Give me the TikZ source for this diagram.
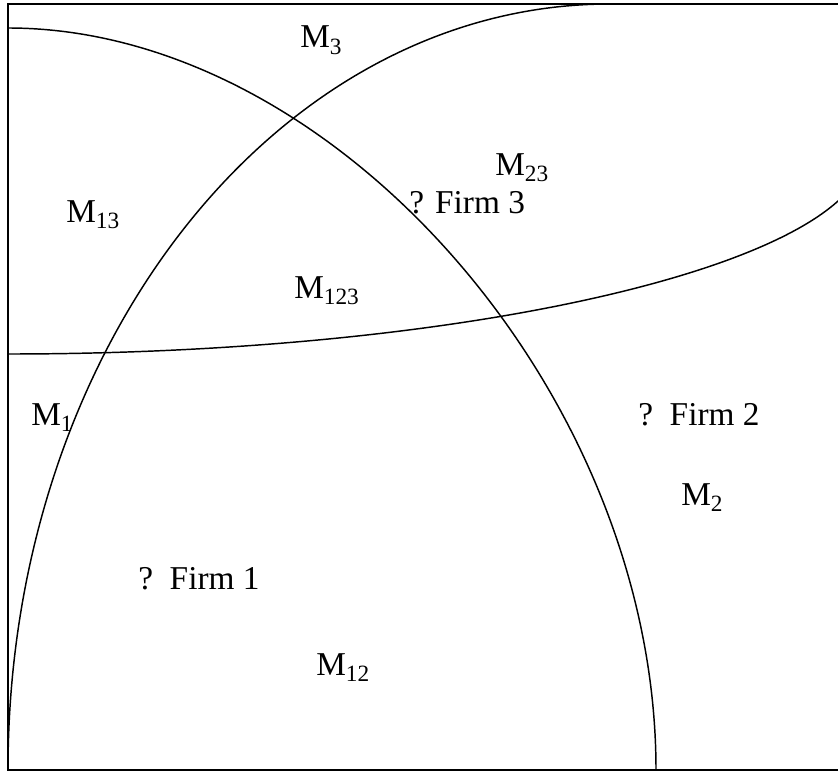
\documentclass[tikz,border=0pt]{standalone}
\usepackage{fontspec}
\setmainfont{Liberation Serif}
\tikzset{
  frame/.style ={draw=black, line width=1.4pt},
  market/.style={draw=black, line width=1.1pt},
  lbl/.style   ={inner sep=0pt, anchor=base west, font=\fontsize{25}{29}\selectfont},
}
\newcommand{\mkt}[1]{M\raisebox{-0.2em}{\fontsize{17.5}{17.5}\selectfont #1}}

\begin{document}
\begin{tikzpicture}[x=0.75pt, y=-0.75pt]
\useasboundingbox (0,0) rectangle (838,774);

\begin{scope}
\clip (0,0) rectangle (838,774);
\draw[frame] (8,4) rectangle (860,770);
% market of firm 1
\draw[market] (8,28) .. controls (335,28) and (656,395) .. (656,770);
% market of firm 2
\draw[market] (8,770) .. controls (8,347) and (277,4) .. (610,4);
% market of firm 3
\draw[market] (8,354) .. controls (483,354) and (866,260) .. (866,150);
\end{scope}

\node[lbl] (m3)   at (300,48)  {\mkt{3}};
\node[lbl] (m23)  at (495,175) {\mkt{23}};
\node[lbl] (f3)   at (409,213) {? Firm 3};
\node[lbl] (m13)  at (66,222)  {\mkt{13}};
\node[lbl] (m123) at (294,298) {\mkt{123}};
\node[lbl] (m1)   at (31,425)  {\mkt{1}};
\node[lbl] (f2)   at (638,425) {?\ \ Firm 2};
\node[lbl] (m2)   at (681,505) {\mkt{2}};
\node[lbl] (f1)   at (138,589) {?\ \ Firm 1};
\node[lbl] (m12)  at (316,675) {\mkt{12}};

\end{tikzpicture}
\end{document}
